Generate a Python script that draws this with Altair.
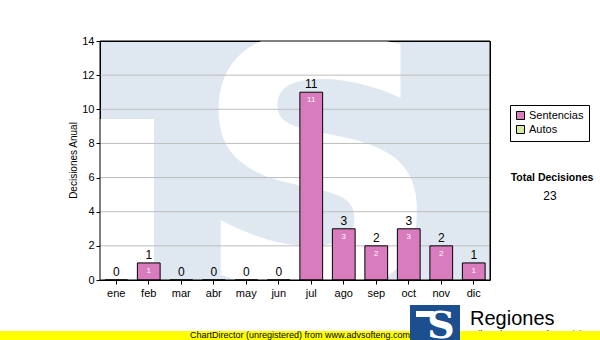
import altair as alt
import pandas as pd

months = ["ene", "feb", "mar", "abr", "may", "jun", "jul", "ago", "sep", "oct", "nov", "dic"]
sentencias = [0, 1, 0, 0, 0, 0, 11, 3, 2, 3, 2, 1]
series = ["Sentencias", "Autos"]
series_colors = ["#d97cbd", "#d6eaa0"]
y_ticks = [0, 2, 4, 6, 8, 10, 12, 14]

W, H = 390, 239
FONT = "Liberation Sans"

df = pd.DataFrame({"mes": months, "valor": sentencias, "serie": "Sentencias"})
df_pos = df[df["valor"] > 0]
total = int(sum(sentencias))
grid_df = pd.DataFrame({"valor": y_ticks[1:-1]})
one = pd.DataFrame({"k": [0]})

xaxis = alt.Axis(title=None, labelAngle=0, ticks=True, tickSize=4, tickColor="black",
                 domain=False, labelFontSize=11, labelFont=FONT, labelColor="black",
                 labelPadding=3)
xenc = alt.X("mes:N", sort=months,
             scale=alt.Scale(paddingInner=0.3, paddingOuter=0.15), axis=xaxis)
yscale = alt.Scale(domain=[0, 14], nice=False, zero=True)
yaxis = alt.Axis(values=y_ticks, grid=False, tickSize=4, tickColor="black", domainColor="black",
                 labelFontSize=11, labelFont=FONT, labelColor="black", labelPadding=2,
                 labelOverlap=False, labelFlush=False,
                 title="Decisiones Anual", titleFontSize=10, titleFont=FONT,
                 titleFontWeight="normal", titleX=-27, titleY=119, titleAngle=-90,
                 titleAlign="center", titleBaseline="middle")
yenc = alt.Y("valor:Q", scale=yscale, axis=yaxis)

# watermark pieces
t_gap = alt.Chart(one).mark_rect(color="white").encode(
    x=alt.value(0), x2=alt.value(54), y=alt.value(78), y2=alt.value(H)
)
s_mark = alt.Chart(one).mark_text(
    text="S", font="DejaVu Sans", fontWeight="bold", fontSize=345, color="white",
    clip=True, baseline="alphabetic", align="center"
).encode(x=alt.value(218), y=alt.value(247))

grid = alt.Chart(grid_df).mark_rule(color="#bdbdbd", strokeWidth=1).encode(y=yenc)

frame = alt.Chart(one).mark_rect(filled=False, stroke="black", strokeWidth=1).encode(
    x=alt.value(0), x2=alt.value(W), y=alt.value(0), y2=alt.value(H)
)

bars = alt.Chart(df).mark_bar(stroke="black", strokeWidth=1).encode(
    x=xenc, y=yenc,
    color=alt.Color("serie:N", scale=alt.Scale(domain=series, range=series_colors),
                    legend=alt.Legend(title=None, orient="none", legendX=410, legendY=64,
                                      strokeColor="black", fillColor="white", padding=5,
                                      symbolType="square", symbolSize=64,
                                      symbolStrokeColor="black", symbolStrokeWidth=1,
                                      labelFontSize=11, labelFont=FONT, labelColor="black",
                                      rowPadding=1, labelOffset=3)),
)

top_labels = alt.Chart(df).mark_text(
    baseline="bottom", dy=-1, fontSize=12, font=FONT, color="black"
).encode(x=xenc, y=yenc, text="valor:Q")

inner_labels = alt.Chart(df_pos).mark_text(
    baseline="top", dy=4, fontSize=8, font=FONT, color="white"
).encode(x=xenc, y=yenc, text="valor:Q")

tot_title = alt.Chart(one).mark_text(
    text="Total Decisiones", font=FONT, fontWeight="bold", fontSize=10.5, color="black",
    align="center", baseline="alphabetic"
).encode(x=alt.value(452), y=alt.value(140))
tot_val = alt.Chart(pd.DataFrame({"t": [total]})).mark_text(
    font=FONT, fontSize=12, color="black", align="center", baseline="alphabetic"
).encode(x=alt.value(450), y=alt.value(159), text="t:Q")

tribunal = alt.Chart(one).mark_text(
    text="Tribunal Supremo de Justicia", font=FONT, fontSize=9, color="black",
    align="left", baseline="alphabetic"
).encode(x=alt.value(370), y=alt.value(296))
yellow = alt.Chart(one).mark_rect(color="#ffff00").encode(
    x=alt.value(-100), x2=alt.value(500), y=alt.value(290), y2=alt.value(299)
)
cd_text = alt.Chart(one).mark_text(
    text="ChartDirector (unregistered) from www.advsofteng.com", font=FONT, fontSize=9,
    color="black", align="left", baseline="alphabetic"
).encode(x=alt.value(90), y=alt.value(297))
logo_box = alt.Chart(one).mark_rect(color="#1c4f8f").encode(
    x=alt.value(310), x2=alt.value(360), y=alt.value(264), y2=alt.value(299)
)
logo_t = alt.Chart(one).mark_rect(color="white").encode(
    x=alt.value(316), x2=alt.value(334), y=alt.value(270), y2=alt.value(276)
)
logo_s = alt.Chart(one).mark_text(
    text="S", font="DejaVu Serif", fontWeight="bold", fontSize=38, color="white",
    align="center", baseline="alphabetic"
).encode(x=alt.value(341), y=alt.value(297))
regiones = alt.Chart(one).mark_text(
    text="Regiones", font=FONT, fontSize=20, color="black", align="left", baseline="alphabetic"
).encode(x=alt.value(370), y=alt.value(284))

chart = alt.layer(
    t_gap, s_mark, grid, bars, frame, top_labels, inner_labels,
    tot_title, tot_val, tribunal, yellow, logo_box, logo_t, logo_s, cd_text, regiones
).properties(
    width=W, height=H,
    autosize=alt.AutoSizeParams(type="none"),
    padding={"left": 100, "top": 41, "right": 110, "bottom": 60},
    background="white",
).configure_view(
    stroke="black", strokeWidth=1, fill="#dfe8f1"
)

chart.save("out.html", embed_options={"renderer": "svg", "actions": False})
